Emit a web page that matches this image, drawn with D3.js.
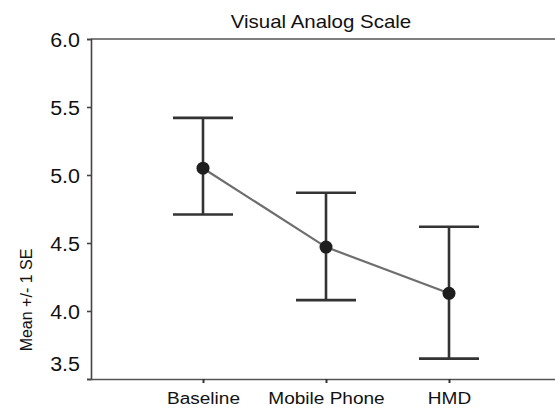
<!DOCTYPE html>
<html>
<head>
<meta charset="utf-8">
<script src="https://cdn.jsdelivr.net/npm/d3@7"></script>
<style>
  html, body { margin: 0; padding: 0; background: #fff; }
  svg { display: block; }
  text { font-family: "Liberation Sans", Arial, sans-serif; fill: #111; }
</style>
</head>
<body>
<svg id="chart" width="555" height="409"></svg>
<script>
const categories = ["Baseline", "Mobile Phone", "HMD"];
const means = [5.05, 4.47, 4.13];
const upper = [5.42, 4.87, 4.62];
const lower = [4.71, 4.08, 3.65];
const yTicks = [3.5, 4.0, 4.5, 5.0, 5.5, 6.0];
const title = "Visual Analog Scale";
const yLabel = "Mean +/- 1 SE";

(function () {
const svg = d3.select("#chart");
const mLeft = 91, mRight = 555, mTop = 39, mBottom = 379;
const SX = 1.1;

const x = d3.scalePoint().domain(categories).range([80, 572]).padding(1);
const y = d3.scaleLinear().domain([3.5, 6.0]).range([mBottom, mTop]);

// Frame: top line
svg.append("line").attr("x1", mLeft).attr("x2", mRight).attr("y1", mTop).attr("y2", mTop)
  .attr("stroke", "#555").attr("stroke-width", 1.6);

// Y axis
const yAxis = svg.append("g").attr("transform", `translate(${mLeft},0)`)
  .call(d3.axisLeft(y).tickValues(yTicks).tickFormat(d3.format(".1f")).tickSize(4).tickPadding(7));
yAxis.select(".domain").attr("stroke", "#444").attr("stroke-width", 1.6);
yAxis.selectAll(".tick line").attr("stroke", "#444").attr("stroke-width", 1.6);
yAxis.selectAll(".tick text")
  .attr("x", null).attr("dy", null)
  .attr("transform", d => `translate(-11,${d === 3.5 ? -9 : 7}) scale(${SX},1)`)
  .style("font-size", "19.5px").style("fill", "#111");
yAxis.attr("font-family", null).attr("font-size", null);

// X axis
const xAxis = svg.append("g").attr("transform", `translate(0,${mBottom})`)
  .call(d3.axisBottom(x).tickSize(4).tickPadding(6));
xAxis.select(".domain").attr("d", `M${mLeft},0.5H${mRight}`).attr("stroke", "#555").attr("stroke-width", 1.6);
xAxis.selectAll(".tick line").attr("stroke", "#333").attr("stroke-width", 2);
xAxis.selectAll(".tick text")
  .attr("y", null).attr("dy", null)
  .attr("transform", `translate(0,25) scale(${SX},1)`)
  .style("font-size", "17.3px").style("fill", "#111");
xAxis.attr("font-family", null).attr("font-size", null);

// Title
svg.append("text")
  .attr("transform", `translate(321,28) scale(${SX},1)`)
  .attr("text-anchor", "middle")
  .style("font-size", "18.6px")
  .text(title);

// Y label
svg.append("text")
  .attr("transform", `translate(32,300) rotate(-90)`)
  .attr("text-anchor", "middle")
  .style("font-size", "16px")
  .text(yLabel);

const data = categories.map((c, i) => ({ c, m: means[i], hi: upper[i], lo: lower[i] }));

// Error bars
const eb = svg.append("g");
eb.selectAll(".v").data(data).join("line")
  .attr("x1", d => x(d.c)).attr("x2", d => x(d.c))
  .attr("y1", d => y(d.hi)).attr("y2", d => y(d.lo))
  .attr("stroke", "#333").attr("stroke-width", 2.6);
const capW = 30;
eb.selectAll(".ct").data(data).join("line")
  .attr("x1", d => x(d.c) - capW).attr("x2", d => x(d.c) + capW)
  .attr("y1", d => y(d.hi)).attr("y2", d => y(d.hi))
  .attr("stroke", "#333").attr("stroke-width", 2.6);
eb.selectAll(".cb").data(data).join("line")
  .attr("x1", d => x(d.c) - capW).attr("x2", d => x(d.c) + capW)
  .attr("y1", d => y(d.lo)).attr("y2", d => y(d.lo))
  .attr("stroke", "#333").attr("stroke-width", 2.6);

// Connecting line
svg.append("path").datum(data)
  .attr("d", d3.line().x(d => x(d.c)).y(d => y(d.m)))
  .attr("fill", "none").attr("stroke", "#6e6e6e").attr("stroke-width", 2.2);

// Markers
svg.selectAll(".pt").data(data).join("circle")
  .attr("cx", d => x(d.c)).attr("cy", d => y(d.m)).attr("r", 6.5)
  .attr("fill", "#1e1e1e");
})();
</script>
</body>
</html>
